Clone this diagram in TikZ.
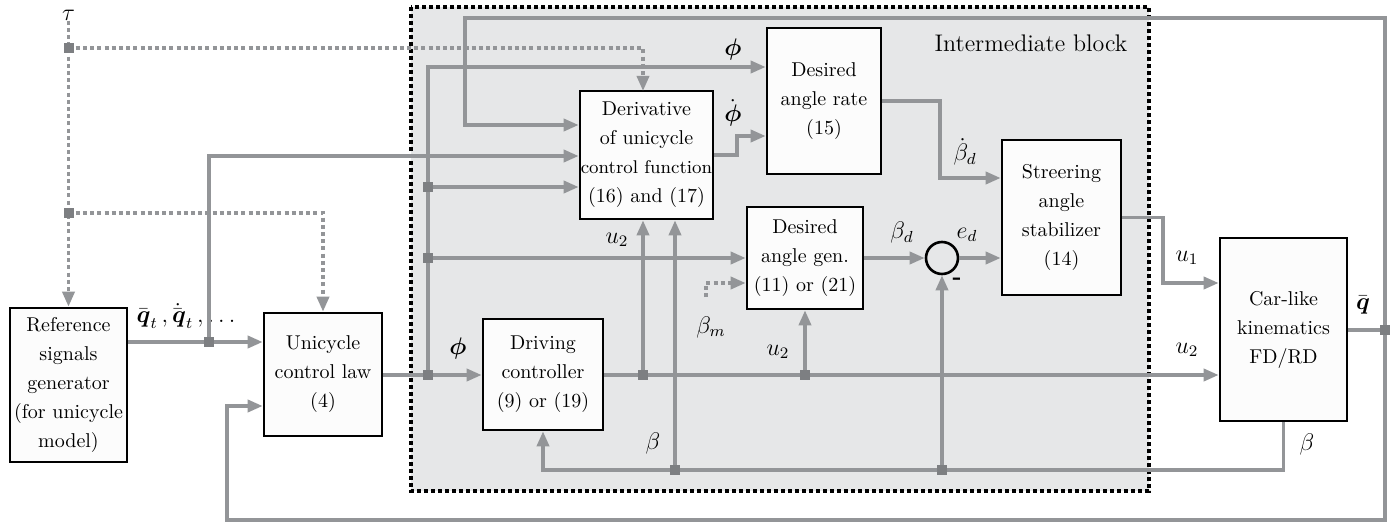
\documentclass[tikz,border=0pt]{standalone}
\usepackage{amsmath}
\usetikzlibrary{arrows.meta}
\definecolor{sgray}{HTML}{939598}
\definecolor{jgray}{HTML}{7D7F82}
\definecolor{bggray}{HTML}{E6E7E8}
\definecolor{boxfill}{HTML}{FCFCFC}
\begin{document}
\begin{tikzpicture}[x=0.5pt,y=-0.5pt,
  sig/.style={draw=sgray,line width=1.75pt},
  arr/.style={sig,-{Triangle[length=7.5pt,width=6pt]}},
  dsig/.style={sig,dash pattern=on 2pt off 1.6pt},
  darr/.style={dsig,-{Triangle[length=7.5pt,width=6pt]}},
  block/.style={draw=black,line width=1.3pt,fill=boxfill,align=center,inner sep=0pt,font=\fontsize{10}{14.5}\selectfont},
  junc/.style={fill=jgray,minimum size=5pt,inner sep=0pt},
  lab/.style={inner sep=0pt,font=\fontsize{12}{14}\selectfont},
  frame/.style={draw=black,line width=2pt,dash pattern=on 2pt off 1.5pt,fill=bggray},
]
\fill[white] (0,0) rectangle (1394,524);
\useasboundingbox (0,0) rectangle (1394,524);
% intermediate block frame
\draw[frame] (411,7) rectangle (1149,491);
\node[inner sep=0pt,font=\fontsize{12}{14}\selectfont] (ibl) at (1031,43) {Intermediate block};

% blocks
\node[block,minimum width=58.5pt,minimum height=77pt] (ref) at (68.5,385) {Reference\\signals\\generator\\(for unicycle\\model)};
\node[block,minimum width=59pt,minimum height=61.5pt] (uni) at (323,374.5) {Unicycle\\control law\\(4)};
\node[block,minimum width=66.5pt,minimum height=64pt] (deriv) at (646.5,155) {Derivative\\of unicycle\\{\fontsize{9.2}{14.5}\selectfont control function}\\(16) and (17)};
\node[block,minimum width=57pt,minimum height=73pt] (rate) at (824,101) {Desired\\angle rate\\(15)};
\node[block,minimum width=60pt,minimum height=55.5pt] (drive) at (543,374.5) {Driving\\controller\\(9) or (19)};
\node[block,minimum width=58pt,minimum height=51pt] (gen) at (805,258) {Desired\\angle gen.\\(11) or (21)};
\node[block,minimum width=59.5pt,minimum height=77.5pt] (stab) at (1061.5,217.5) {Streering\\angle\\stabilizer\\(14)};
\node[block,minimum width=63.5pt,minimum height=91.5pt] (car) at (1283.5,329.5) {Car-like\\kinematics\\FD/RD};
\node[draw=black,line width=1.3pt,circle,minimum size=16pt,inner sep=0pt] (sum) at (942,258) {};

% labels
\node[lab] (tau) at (68.5,15) {$\tau$};
\node[lab] (qt) at (186,316) {$\bar{\boldsymbol q}_t\,,\dot{\bar{\boldsymbol q}}_t\,,\ldots$};
\node[lab] (phi1) at (733,50) {$\boldsymbol\phi$};
\node[lab] (phid) at (733,113) {$\dot{\boldsymbol\phi}$};
\node[lab] (phi2) at (458,348) {$\boldsymbol\phi$};
\node[lab] (u2a) at (617,240) {$u_2$};
\node[lab] (bm) at (711,327) {$\beta_m$};
\node[lab] (u2b) at (778,352) {$u_2$};
\node[lab] (bet1) at (653,443) {$\beta$};
\node[lab] (bdd) at (965,152) {$\dot\beta_d$};
\node[lab] (bd) at (902,233) {$\beta_d$};
\node[lab] (ed) at (967,235) {$e_d$};
\node[lab] (u1) at (1187,258) {$u_1$};
\node[lab] (u2c) at (1187,350) {$u_2$};
\node[lab] (qb) at (1363,305) {$\bar{\boldsymbol q}$};
\node[lab] (bet2) at (1307,444) {$\beta$};
\node[lab] (minus) at (957,281) {\textbf{-}};

% helper coordinates
\coordinate (jt1) at (68.5,48);
\coordinate (jt2) at (68.5,213);
\coordinate (j1) at (209,342);
\coordinate (jq) at (1385,330);
\coordinate (jp) at (428,375);
\coordinate (ja) at (428,187);
\coordinate (jb) at (428,258);
\coordinate (ju1) at (643,375);
\coordinate (ju2) at (805,375);
\coordinate (jb1) at (675,470);
\coordinate (jb2) at (942,470);
\coordinate (y67) at (0,67);
\coordinate (y125) at (0,125);
\coordinate (y136) at (0,136);
\coordinate (y156) at (0,156);
\coordinate (y178) at (0,178);
\coordinate (y283) at (0,283);
\coordinate (y406) at (0,406);

% dotted tau signals
\draw[darr] (tau.south) -- (ref.north);
\draw[darr] (jt1) -- (643,48) -- (643,91);
\draw[darr] (jt2) -- (323,213) -- (uni.north);
\draw[darr] (706,297) -- (706,283) -- (gen.west |- y283);

% reference signals
\draw[arr] (ref.east |- j1) -- (uni.west |- j1);
\draw[arr] (j1) -- (209,156) -- (deriv.west |- y156);

% q-bar feedback
\draw[sig] (car.east |- jq) -- (jq);
\draw[arr] (jq) -- (1385,18) -- (465,18) -- (465,125) -- (deriv.west |- y125);
\draw[arr] (jq) -- (1385,520) -- (227,520) -- (227,406) -- (uni.west |- y406);

% unicycle output phi
\draw[sig] (uni.east |- jp) -- (jp);
\draw[arr] (jp) -- (drive.west |- jp);
\draw[arr] (jp) -- (428,67) -- (rate.west |- y67);
\draw[arr] (ja) -- (deriv.west |- ja);
\draw[arr] (jb) -- (gen.west |- jb);

% u2
\draw[arr] (drive.east |- jp) -- (car.west |- jp);
\draw[arr] (ju1) -- (ju1 |- deriv.south);
\draw[arr] (ju2) -- (gen.south);

% beta feedback
\draw[arr] (car.south) -- (car.south |- jb1) -- (drive.south |- jb1) -- (drive.south);
\draw[arr] (jb1) -- (jb1 |- deriv.south);
\draw[arr] (jb2) -- (sum.south);

% inner signals
\draw[arr] (deriv.east) -- (737,155) -- (737,136) -- (rate.west |- y136);
\draw[arr] (rate.east) -- (940,101) -- (940,178) -- (stab.west |- y178);
\draw[arr] (gen.east) -- (sum.west);
\draw[arr] (sum.east) -- (stab.west |- sum);
\draw[arr] (stab.east) -- (1163,217.5) -- (1163,283) -- (car.west |- y283);

% junction squares
\foreach \j in {jt1,jt2,j1,jq,jp,ja,jb,ju1,ju2,jb1,jb2}
  \node[junc] (\j sq) at (\j) {};
\end{tikzpicture}
\end{document}
